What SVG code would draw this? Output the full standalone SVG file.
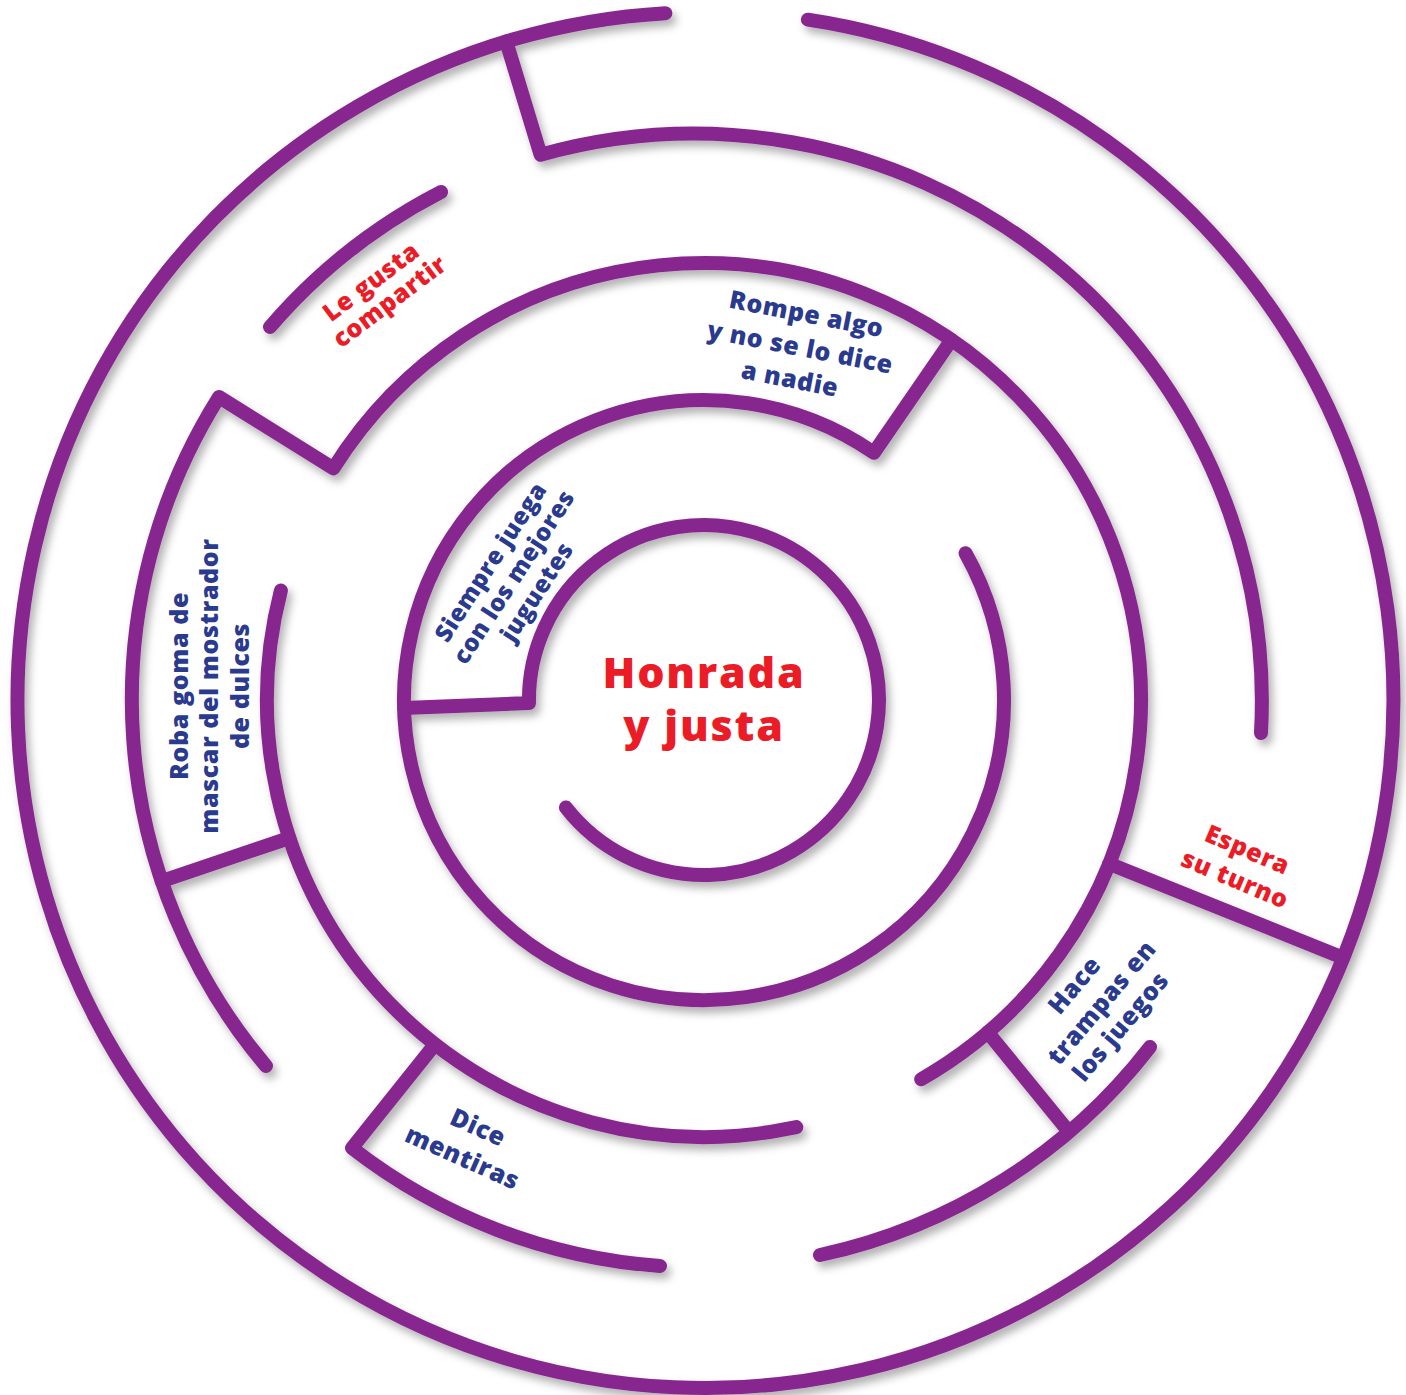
<svg xmlns="http://www.w3.org/2000/svg" width="1406" height="1395" viewBox="0 0 1406 1395">
<defs>
<style>
.w{fill:none;stroke:#87288f;stroke-width:14;stroke-linecap:round;stroke-linejoin:round}
.t{font-family:"Open Sans","DejaVu Sans",sans-serif;font-weight:800;text-anchor:middle;letter-spacing:0.6px}
.b{fill:#2a3a8e;font-size:25px}
.r{fill:#ec1c27;font-size:25px}
.h{fill:#ec1c27;font-size:43px;letter-spacing:1.8px}
</style>
<filter id="sh" x="-10%" y="-10%" width="120%" height="120%">
<feDropShadow dx="4" dy="6" stdDeviation="4" flood-color="#000" flood-opacity="0.3"/>
</filter>
</defs>
<rect width="1406" height="1395" fill="#fff"/>
<g id="maze" filter="url(#sh)">
<path id="ring1" class="w" d="M 807.9 19.7 A 688 688 0 1 1 665.4 13.2"/>
<path id="ring2-top" class="w" d="M 506.2 41.4 L 540.6 154.8 A 568 568 0 0 1 1261 733"/>
<path id="ring2-share" class="w" d="M 270 327 A 568 568 0 0 1 441 192"/>
<path id="ring3-a" class="w" d="M 921.2 1079.2 A 437 437 0 1 0 333.4 468.4 L 219 397 A 568 568 0 0 0 266 1066"/>
<path id="wall-left" class="w" d="M 161.7 881.2 L 289.3 838"/>
<path id="ring3-b" class="w" d="M 280.9 590.6 A 437 437 0 0 0 796.3 1127.1"/>
<path id="ring2-bottom" class="w" d="M 434.9 1044.4 L 352 1148 A 568 568 0 0 0 660 1266"/>
<path id="ring2-br" class="w" d="M 820 1255 A 568 568 0 0 0 1150 1047"/>
<path id="wall-br" class="w" d="M 987.8 1032.3 L 1068.9 1131.9"/>
<path id="wall-right" class="w" d="M 1109.2 863.7 L 1342.9 957.7"/>
<path id="ring4" class="w" d="M 951.5 339.9 L 873.9 452.8 A 300 300 0 1 0 965.6 553.2"/>
<path id="ring5" class="w" d="M 404.1 707.9 L 529 703.1 A 175 175 0 1 1 565.9 807.5"/>
</g>
<g id="center-label">
<text class="t h" x="704" y="688">Honrada</text>
<text class="t h" x="704" y="741">y justa</text>
</g>
<g id="label-compartir" transform="translate(380,292) rotate(-37)">
<text class="t r" x="-1" y="-5">Le gusta</text>
<text class="t r" x="2" y="22">compartir</text>
</g>
<g id="label-rompe" transform="translate(800,348) rotate(11)">
<text class="t b" x="0" y="-26">Rompe algo</text>
<text class="t b" x="0" y="8">y no se lo dice</text>
<text class="t b" x="-4" y="41">a nadie</text>
</g>
<g id="label-siempre" transform="translate(514,577) rotate(-57)">
<text class="t b" x="0" y="-19.5" style="font-size:24px">Siempre juega</text>
<text class="t b" x="0" y="8" style="font-size:24px">con los mejores</text>
<text class="t b" x="0" y="35.5" style="font-size:24px">juguetes</text>
</g>
<g id="label-roba" transform="translate(210,686) rotate(-90)">
<text class="t b" x="0" y="-22.5">Roba goma de</text>
<text class="t b" x="0" y="8">mascar del mostrador</text>
<text class="t b" x="0" y="38.5">de dulces</text>
</g>
<g id="label-dice" transform="translate(470,1143) rotate(24)">
<text class="t b" x="1" y="-9">Dice</text>
<text class="t b" x="-1" y="25">mentiras</text>
</g>
<g id="label-hace" transform="translate(1102,1003) rotate(-50)">
<text class="t b" x="-4" y="-24">Hace</text>
<text class="t b" x="0" y="8">trampas en</text>
<text class="t b" x="-6" y="38">los juegos</text>
</g>
<g id="label-espera" transform="translate(1241,865) rotate(23)">
<text class="t r" x="0" y="-8">Espera</text>
<text class="t r" x="0" y="24">su turno</text>
</g>
</svg>
